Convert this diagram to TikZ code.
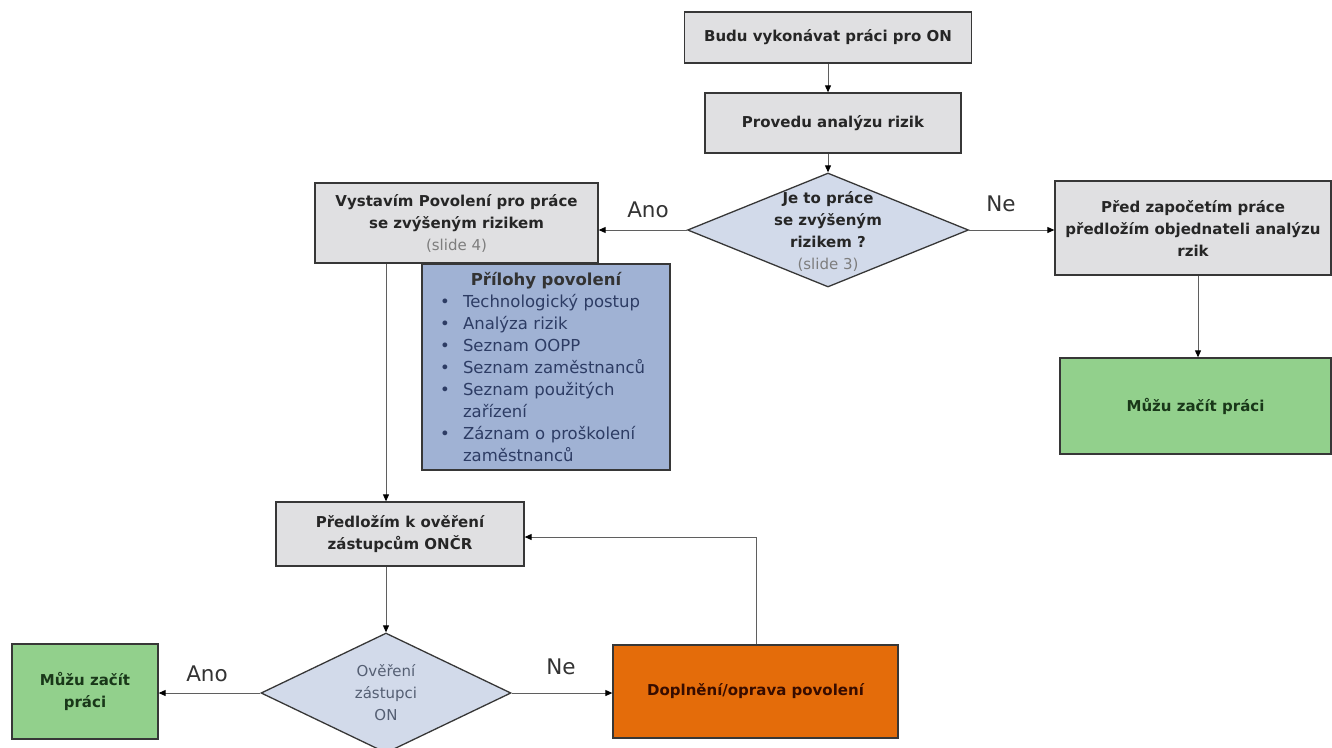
\documentclass[tikz,border=0pt]{standalone}
\usepackage{fontspec}
\setmainfont{DejaVu Sans}
\usetikzlibrary{arrows.meta,shapes.geometric}
\definecolor{boxgray}{RGB}{224,224,226}
\definecolor{dia}{RGB}{210,218,234}
\definecolor{attc}{RGB}{160,178,212}
\definecolor{grn}{RGB}{146,208,140}
\definecolor{org}{RGB}{228,108,10}
\definecolor{edgec}{RGB}{55,55,55}
\definecolor{conn}{RGB}{95,95,95}
\definecolor{slidec}{RGB}{125,125,125}
\definecolor{grntext}{RGB}{25,55,25}
\definecolor{orgtext}{RGB}{55,12,0}
\definecolor{atttext}{RGB}{45,60,100}
\definecolor{d2text}{RGB}{85,95,115}
\newcommand\bul{\makebox[23pt][l]{\textbullet}}
\newcommand\ind{\hspace*{23pt}}
\begin{document}
\begin{tikzpicture}[x=1pt,y=-1pt,
  base/.style={draw=edgec, line width=1.3pt, inner sep=2pt, align=center,
    font=\fontsize{15}{22}\selectfont\bfseries, text=black!85},
  graybox/.style={base, fill=boxgray},
  greenbox/.style={base, fill=grn, text=grntext},
  orangebox/.style={base, fill=org, text=orgtext},
  attbox/.style={base, fill=attc, align=left, text=atttext,
    font=\fontsize{16.5}{22}\selectfont, inner xsep=10pt, inner ysep=0pt},
  decision/.style={diamond, draw=edgec, line width=1.3pt, fill=dia, inner sep=0pt},
  dlabel/.style={align=center, font=\fontsize{15}{22}\selectfont, inner sep=0pt},
  conn/.style={draw=conn, line width=0.9pt, -{Triangle[length=7pt,width=6pt,fill=black,color=black]}},
  lbl/.style={font=\fontsize{21.5}{22}\selectfont, text=black!80}
]
\useasboundingbox (0,0) rectangle (1332,747);
\fill[white] (0,0) rectangle (1332,747);

\node[graybox, minimum width=287pt, minimum height=51pt] (b1) at (828,37.5) {Budu vykonávat práci pro ON};
\node[graybox, minimum width=256pt, minimum height=60pt] (b2) at (833,123) {Provedu analýzu rizik};
\node[decision, minimum width=281pt, minimum height=114pt] (d1) at (828,230) {};
\node[dlabel, text=black!85] (d1t) at (828,231) {\bfseries Je to práce\\ \bfseries se zvýšeným\\ \bfseries rizikem ?\\ {\color{slidec}(slide 3)}};

\node[graybox, minimum width=283pt, minimum height=80pt] (b3) at (456.5,223)
  {Vystavím Povolení pro práce\\ se zvýšeným rizikem\\ {\mdseries\color{slidec}(slide 4)}};

\node[attbox, text width=228pt, minimum height=206pt] (att) at (546,367)
  {\makebox[228pt][c]{\bfseries\color{black!80}Přílohy povolení}\\
   \hspace*{8pt}\bul Technologický postup\\
   \hspace*{8pt}\bul Analýza rizik\\
   \hspace*{8pt}\bul Seznam OOPP\\
   \hspace*{8pt}\bul Seznam zaměstnanců\\
   \hspace*{8pt}\bul Seznam použitých\\
   \hspace*{8pt}\ind zařízení\\
   \hspace*{8pt}\bul Záznam o proškolení\\
   \hspace*{8pt}\ind zaměstnanců};

\node[graybox, minimum width=276pt, minimum height=94pt] (b4) at (1193,228)
  {Před započetím práce\\ předložím objednateli analýzu\\ rzik};
\node[greenbox, minimum width=271pt, minimum height=96pt] (g1) at (1195.5,406) {Můžu začít práci};

\node[graybox, minimum width=248pt, minimum height=64pt] (b5) at (400,534)
  {Předložím k ověření\\ zástupcům ONČR};
\node[decision, minimum width=250pt, minimum height=120pt] (d2) at (386,693) {};
\node[dlabel, text=d2text] (d2t) at (386,693) {Ověření\\ zástupci\\ ON};

\node[greenbox, minimum width=146pt, minimum height=95pt] (g2) at (85,691.5) {Můžu začít\\ práci};
\node[orangebox, minimum width=285pt, minimum height=93pt] (o1) at (755.5,691.5) {Doplnění/oprava povolení};

% connectors
\draw[conn] (b1.south) -- (b2.north -| b1.south);
\draw[conn] (b2.south -| d1.north) -- (d1.north);
\draw[conn] (d1.west) -- (d1.west -| b3.east);
\draw[conn] (d1.east) -- (d1.east -| b4.west);
\coordinate (b4drop) at (1198,275);
\draw[conn] (b4.south -| b4drop) -- (g1.north -| b4drop);
\draw[conn] (b3.south -| d2.north) -- (b5.north -| d2.north);
\draw[conn] (b5.south -| d2.north) -- (d2.north);
\draw[conn] (d2.west) -- (g2.east |- d2.west);
\draw[conn] (d2.east) -- (o1.west |- d2.east);
\coordinate (loop) at (756,537);
\draw[conn] (o1.north -| loop) -- (loop) -- (loop -| b5.east);

% labels
\node[lbl] (l1) at (648,210) {Ano};
\node[lbl] (l2) at (1001,204) {Ne};
\node[lbl] (l3) at (207,674) {Ano};
\node[lbl] (l4) at (561,667) {Ne};
\end{tikzpicture}
\end{document}
